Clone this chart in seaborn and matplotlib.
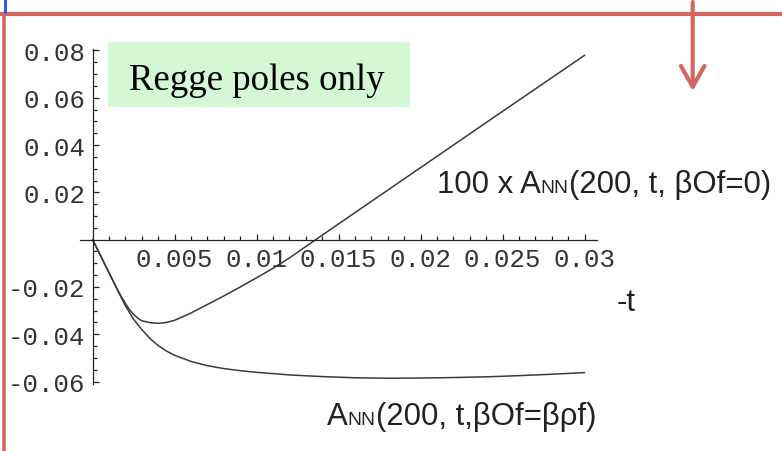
import numpy as np
import pandas as pd
import matplotlib
matplotlib.use("Agg")
import matplotlib.pyplot as plt
import seaborn as sns
from matplotlib.lines import Line2D
from matplotlib.patches import Rectangle, FancyArrowPatch
from matplotlib.ticker import FixedLocator, FixedFormatter

# ---------------- data ----------------
t_upper = [0, 0.0005, 0.001, 0.0015, 0.00175, 0.002, 0.00225, 0.0025, 0.00275, 0.003,
           0.0035, 0.004, 0.0045, 0.005, 0.006, 0.007, 0.008, 0.009, 0.010, 0.011,
           0.012, 0.0136, 0.015, 0.020, 0.025, 0.030]
a_upper = [0, -0.0070, -0.0140, -0.0209, -0.0241, -0.0270, -0.0296, -0.0316, -0.0332, -0.0343,
           -0.0351, -0.0354, -0.0350, -0.0341, -0.0310, -0.0274, -0.0238, -0.0200, -0.0161, -0.0121,
           -0.0077, 0.0, 0.0067, 0.0305, 0.0543, 0.0780]

t_lower = [0, 0.0005, 0.001, 0.0015, 0.002, 0.0025, 0.003, 0.0035, 0.004, 0.0045,
           0.005, 0.006, 0.007, 0.008, 0.009, 0.010, 0.012, 0.014, 0.016, 0.018,
           0.020, 0.022, 0.024, 0.026, 0.028, 0.030]
a_lower = [0, -0.0070, -0.0140, -0.0211, -0.0280, -0.0337, -0.0380, -0.0418, -0.0448, -0.0471,
           -0.0489, -0.0515, -0.0533, -0.0545, -0.0554, -0.0561, -0.0572, -0.0579, -0.0584, -0.0586,
           -0.0585, -0.0583, -0.0580, -0.0575, -0.0569, -0.0562]

x_ticks = [0.005, 0.01, 0.015, 0.02, 0.025, 0.03]
x_ticklabels = ["0.005", "0.01", "0.015", "0.02", "0.025", "0.03"]
y_ticks = [-0.06, -0.04, -0.02, 0.02, 0.04, 0.06, 0.08]
y_ticklabels = ["-0.06", "-0.04", "-0.02", "0.02", "0.04", "0.06", "0.08"]

title_box = "Regge poles only"
label_upper = [("100 x A", 1.0), ("NN", 0.62), ("(200, t, βOf=0)", 1.0)]
label_lower = [("A", 1.0), ("NN", 0.62), ("(200, t,βOf=βρf)", 1.0)]
axis_label = "-t"

# ---------------- figure ----------------
W, H = 782, 452
sns.set_style("white")
fig = plt.figure(figsize=(W / 100, H / 100), dpi=100)
fig.patch.set_facecolor("white")

def fx(px):
    return px / W

def fy(py):
    return 1 - py / H

# axes placed so that origin sits at (92.7, 240.7) px
x0_px, x1_px = 80.0, 597.0
y_top_px, y_bot_px = 50.3, 385.4
ax = fig.add_axes([fx(x0_px), fy(y_bot_px), (x1_px - x0_px) / W, (y_bot_px - y_top_px) / H])
ax.set_facecolor("none")

df = pd.concat([
    pd.DataFrame({"t": t_upper, "A": a_upper, "curve": "upper"}),
    pd.DataFrame({"t": t_lower, "A": a_lower, "curve": "lower"}),
])
sns.lineplot(data=df, x="t", y="A", hue="curve", palette=["#3a3a3a", "#3a3a3a"],
             linewidth=1.1, legend=False, ax=ax, sort=False, estimator=None)

ax.set_xlim(-0.00077, 0.03075)
ax.set_ylim(-0.0612, 0.0805)
ax.set_xlabel("")
ax.set_ylabel("")

for s in ["top", "right"]:
    ax.spines[s].set_visible(False)
ax.spines["left"].set_position(("data", 0))
ax.spines["bottom"].set_position(("data", 0))
for s in ["left", "bottom"]:
    ax.spines[s].set_color("#222222")
    ax.spines[s].set_linewidth(0.9)

ax.xaxis.set_major_locator(FixedLocator(x_ticks))
ax.xaxis.set_major_formatter(FixedFormatter(x_ticklabels))
ax.yaxis.set_major_locator(FixedLocator(y_ticks))
ax.yaxis.set_major_formatter(FixedFormatter(y_ticklabels))
ax.xaxis.set_minor_locator(FixedLocator([i * 0.001 for i in range(1, 31)]))
ax.yaxis.set_minor_locator(FixedLocator([i * 0.005 for i in range(-12, 17) if i != 0]))

ax.tick_params(axis="both", which="both", direction="in", color="#222222", width=0.9,
               bottom=True, left=True, top=False, right=False)
ax.tick_params(axis="both", which="major", length=4.5)
ax.tick_params(axis="both", which="minor", length=2.8)
ax.tick_params(axis="x", which="major", pad=5.5, labelcolor="#333333")
ax.tick_params(axis="y", which="major", pad=5.0, labelcolor="#333333")
for lab in ax.get_xticklabels() + ax.get_yticklabels():
    lab.set_fontfamily("Liberation Mono")
    lab.set_fontsize(18.5)

# ---------------- slide decorations ----------------
red = "#d4685f"
fig.add_artist(Line2D([0, 1], [fy(15), fy(15)], transform=fig.transFigure, color=red, lw=3.0))
fig.add_artist(Line2D([fx(4.3), fx(4.3)], [fy(15), 0], transform=fig.transFigure, color=red, lw=2.6))
fig.add_artist(Line2D([fx(5.3), fx(5.3)], [1, fy(13)], transform=fig.transFigure, color="#1f5fe0", lw=2.2))
arrow = FancyArrowPatch((fx(692.7), fy(3)), (fx(692.7), fy(92)), transform=fig.transFigure,
                        arrowstyle="->,head_length=1.5,head_width=0.85", mutation_scale=10,
                        color=red, lw=3.0, shrinkA=0, shrinkB=0, capstyle="round", joinstyle="round")
fig.add_artist(arrow)

# green box with serif caption
fig.add_artist(Rectangle((fx(108), fy(108)), (410 - 108) / W, (108 - 43) / H,
                         transform=fig.transFigure, facecolor="#d4f8d4", edgecolor="none"))
fig.text(fx(256.5), fy(90), title_box, family="Liberation Serif", fontsize=26.5,
         ha="center", va="baseline", color="black")

# ---------------- curve labels ----------------
renderer = fig.canvas.get_renderer()
base_size = 22.4

def seq_text(x_px, y_px, pieces):
    x = x_px
    for s, scale in pieces:
        t = fig.text(fx(x), fy(y_px), s, family="Liberation Sans", fontsize=base_size * scale,
                     ha="left", va="baseline", color="#222222")
        bb = t.get_window_extent(renderer)
        x = bb.x1

seq_text(437, 193.3, label_upper)
seq_text(327, 425, label_lower)
fig.text(fx(617), fy(311), axis_label, family="Liberation Sans", fontsize=base_size,
         ha="left", va="baseline", color="#222222")

fig.savefig("out.png", dpi=100, facecolor="white")
